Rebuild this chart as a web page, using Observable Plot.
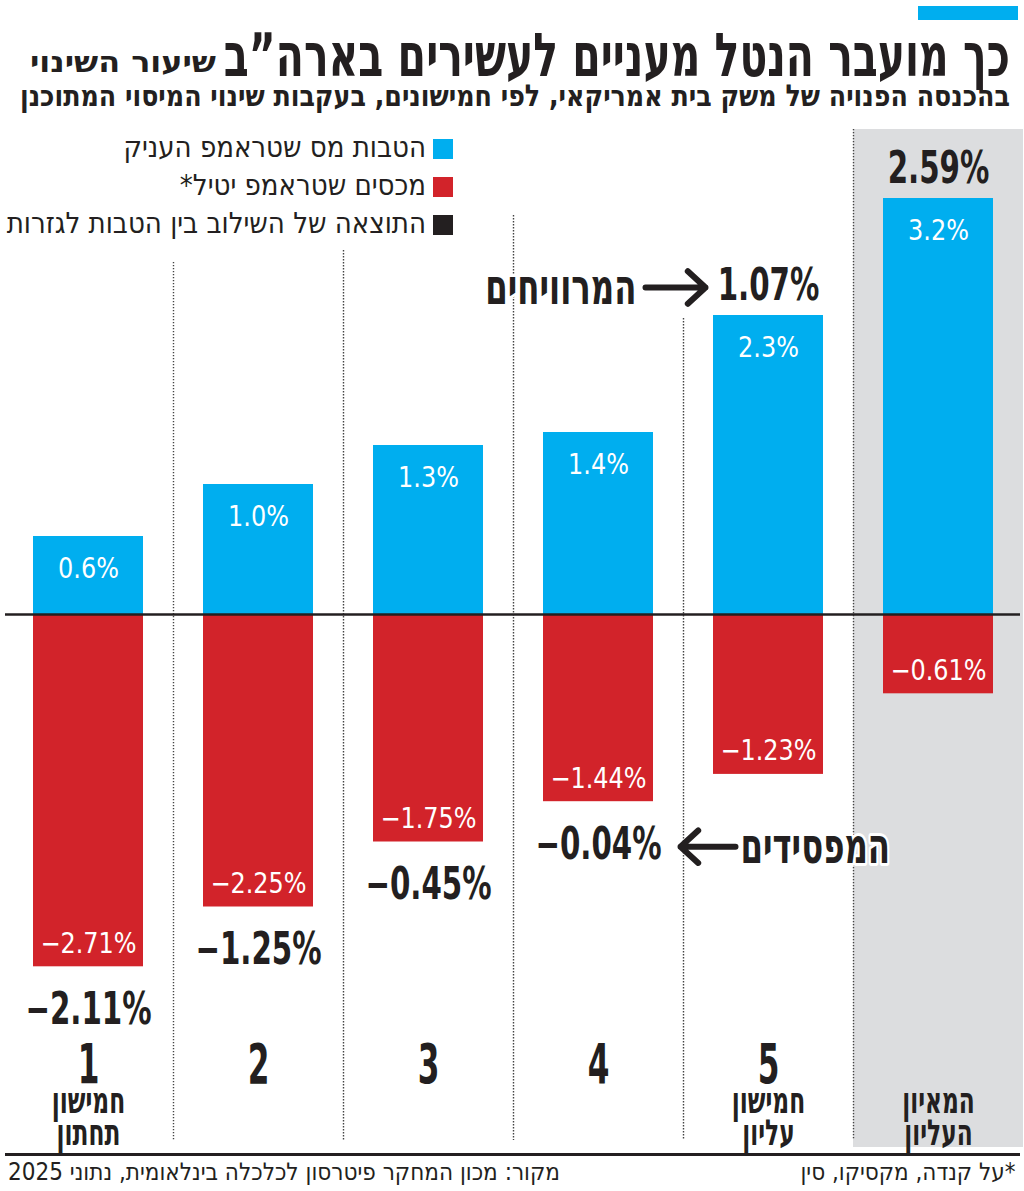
<!DOCTYPE html>
<html lang="he">
<head>
<meta charset="utf-8">
<script src="https://cdn.jsdelivr.net/npm/d3@7"></script>
<script src="https://cdn.jsdelivr.net/npm/@observablehq/plot@0.6"></script>
<style>
  html, body { margin: 0; padding: 0; background: #fff; }
  body { width: 1024px; height: 1191px; overflow: hidden; }
  #page { position: relative; width: 1024px; height: 1191px; font-family: "Liberation Sans Narrow", "DejaVu Sans Condensed", "Liberation Sans", sans-serif; color: #231f20; }
  #accent { position: absolute; left: 918px; top: 6px; width: 100px; height: 14px; background: #00aeef; }
  .fit { position: absolute; white-space: nowrap; direction: rtl; display: inline-block; }
  #title { right: 14px; top: 25px; font-size: 60px; font-weight: bold; line-height: 60px; transform-origin: right center; }
  #unit { left: 30px; top: 47px; font-size: 29px; font-weight: bold; line-height: 30px; transform-origin: left center; }
  #subtitle { right: 14px; top: 79px; font-size: 30px; font-weight: bold; line-height: 34px; transform-origin: right center; }
  #chart { position: absolute; left: 0; top: 120px; }
  #legend { position: absolute; left: 0; top: 128px; width: 453px; direction: rtl; font-size: 29px; line-height: 38px; }
  #legend .row { white-space: nowrap; }
  #legend .sw { display: inline-block; width: 20px; height: 20px; margin-left: 7px; vertical-align: -2px; }
  #rule { position: absolute; left: 5px; top: 1153px; width: 1015px; height: 3px; background: #231f20; }
  #note { right: 9px; top: 1158px; font-size: 24px; line-height: 28px; transform-origin: right center; }
  #src { left: 8px; top: 1158px; font-size: 24px; line-height: 28px; transform-origin: left center; }
</style>
</head>
<body>
<div id="page">
  <div id="accent"></div>
  <div id="title" class="fit">כך מועבר הנטל מעניים לעשירים בארה”ב</div>
  <div id="unit" class="fit">שיעור השינוי</div>
  <div id="subtitle" class="fit">בהכנסה הפנויה של משק בית אמריקאי, לפי חמישונים, בעקבות שינוי המיסוי המתוכנן</div>
  <div id="chart"></div>
  <div id="legend"></div>
  <div id="rule"></div>
  <div id="note" class="fit">*על קנדה, מקסיקו, סין</div>
  <div id="src" class="fit">מקור: מכון המחקר פיטרסון לכלכלה בינלאומית, נתוני 2025</div>
</div>
<script>
// ---- data ----
const quintiles = ["1", "2", "3", "4", "5", "top1"];
const numberLabels = ["1", "2", "3", "4", "5", ""];
const nameLabels = ["חמישון\nתחתון", "", "", "", "חמישון\nעליון", "המאיון\nהעליון"];
const taxCuts = [0.6, 1.0, 1.3, 1.4, 2.3, 3.2];          // הטבות מס
const tariffs = [-2.71, -2.25, -1.75, -1.44, -1.23, -0.61]; // מכסים
const netChange = [-2.11, -1.25, -0.45, -0.04, 1.07, 2.59]; // התוצאה
const legendItems = ["הטבות מס שטראמפ העניק", "מכסים שטראמפ יטיל*", "התוצאה של השילוב בין הטבות לגזרות"];
const winnersLabel = "המרוויחים";
const losersLabel = "המפסידים";

// ---- style ----
const BLUE = "#00aeef", RED = "#d2232a", INK = "#231f20", GREY = "#dcdddf";
const legendColors = [BLUE, RED, INK];
const FONT = '"Liberation Sans Narrow", "DejaVu Sans Condensed", "Liberation Sans", sans-serif';
const H = 1033, ZERO = 494, PXU = 130;
const yTop = ZERO / PXU, yBot = -(H - ZERO) / PXU;
const sepTops = [2.708, 2.8, 3.069, 2.277, 3.731]; // where dotted separators begin (value units)
const sepBottom = -4.046;
const FS = {lbl: 28, big: 44, ann: 50, num: 56, name: 36};

const fmt = (v, d) => (v < 0 ? "\u2212" : "") + Math.abs(v).toFixed(d) + "%";

const rows = quintiles.map((q, i) => {
  const parts = nameLabels[i].split("\n");
  return {q, cut: taxCuts[i], tariff: tariffs[i], net: netChange[i],
    num: numberLabels[i], name1: parts[0] || "", name2: parts[1] || ""};
});
const posNet = rows.filter(d => d.net > 0);
const negNet = rows.filter(d => d.net < 0);

const chart = Plot.plot({
  width: 1024, height: H,
  marginTop: 0, marginBottom: 0, marginLeft: 0, marginRight: 0,
  x: {type: "band", domain: quintiles, range: [3, 1023], padding: 0, round: false, axis: null},
  y: {domain: [yBot, yTop], range: [H, 0], axis: null},
  style: {fontFamily: FONT, background: "transparent", overflow: "visible"},
  marks: [
    Plot.barY([quintiles[5]], {x: d => d, y1: yBot, y2: yTop, fill: GREY, insetTop: 9, insetBottom: 6}),
    Plot.ruleX(quintiles.slice(1), {x: d => d, dx: -85, y1: (d, i) => sepTops[i], y2: sepBottom,
      stroke: "#444", strokeWidth: 1.4, strokeDasharray: "1.4,1.6"}),
    Plot.barY(rows, {x: "q", y: "cut", fill: BLUE, insetLeft: 30, insetRight: 30}),
    Plot.barY(rows, {x: "q", y: "tariff", fill: RED, insetLeft: 30, insetRight: 30}),
    Plot.ruleY([0], {stroke: INK, strokeWidth: 2.5, insetLeft: 5, insetRight: 4}),
    Plot.text(rows, {x: "q", y: "cut", text: d => fmt(d.cut, 1), dy: 33, fill: "white", fontSize: FS.lbl}),
    Plot.text(rows, {x: "q", y: "tariff", text: d => fmt(d.tariff, 2), dy: -23, fill: "white", fontSize: FS.lbl}),
    Plot.text(posNet, {x: "q", y: "cut", text: d => fmt(d.net, 2), dy: -30, fill: INK, fontSize: FS.big, fontWeight: "bold"}),
    Plot.text(negNet, {x: "q", y: "tariff", text: d => fmt(d.net, 2), dy: 43, fill: INK, fontSize: FS.big, fontWeight: "bold"}),
    Plot.arrow([rows[3]], {x1: () => quintiles[3], x2: () => quintiles[4], y1: () => taxCuts[4], y2: () => taxCuts[4],
      dy: -28, insetStart: 47, insetEnd: 63, stroke: INK, strokeWidth: 6, headLength: 6, headAngle: 85}),
    Plot.text([winnersLabel], {x: () => quintiles[3], y: () => taxCuts[4], text: d => d, dy: -28, dx: 38,
      textAnchor: "end", fill: INK, fontSize: FS.ann, fontWeight: "bold", stroke: "white", strokeWidth: 6, paintOrder: "stroke"}),
    Plot.arrow([rows[4]], {x1: () => quintiles[4], x2: () => quintiles[3], y1: () => tariffs[3], y2: () => tariffs[3],
      dy: 45, insetStart: 33, insetEnd: 82, stroke: INK, strokeWidth: 6, headLength: 6, headAngle: 85}),
    Plot.text([losersLabel], {x: () => quintiles[4], y: () => tariffs[3], text: d => d, dy: 45, dx: -28,
      textAnchor: "start", fill: INK, fontSize: FS.ann, fontWeight: "bold", stroke: "white", strokeWidth: 6, paintOrder: "stroke"}),
    Plot.text(rows, {x: "q", text: "num", frameAnchor: "bottom", lineAnchor: "middle", dy: -88,
      fill: INK, fontSize: FS.num, fontWeight: "bold"}),
    Plot.text(rows, {x: "q", text: "name1", frameAnchor: "bottom", lineAnchor: "middle", dy: -52,
      fill: INK, fontSize: FS.name, fontWeight: "bold"}),
    Plot.text(rows, {x: "q", text: "name2", frameAnchor: "bottom", lineAnchor: "middle", dy: -20,
      fill: INK, fontSize: FS.name, fontWeight: "bold"})
  ]
});
document.getElementById("chart").appendChild(chart);

// condense heavy labels horizontally (the original uses a condensed display face)
function condense(size, f) {
  d3.select(chart).selectAll("g").filter(function() {
    return +this.getAttribute("font-size") === size;
  }).selectAll("text").each(function() {
    const len = this.getComputedTextLength();
    if (len > 0) {
      this.setAttribute("textLength", (len * f).toFixed(1));
      this.setAttribute("lengthAdjust", "spacingAndGlyphs");
    }
  });
}
condense(FS.big, 0.74);
condense(FS.ann, 0.72);
condense(FS.num, 0.62);
condense(FS.name, 0.72);
condense(FS.lbl, 0.95);

// legend (HTML overlay)
const legend = d3.select("#legend");
legendItems.forEach((t, i) => {
  const row = legend.append("div").attr("class", "row");
  row.append("span").attr("class", "sw").style("background", legendColors[i]);
  row.append("span").text(t);
});

// fit header/footer texts to their widths in the original layout
function fitWidth(id, target) {
  const el = document.getElementById(id);
  const w = el.getBoundingClientRect().width;
  el.style.transform = `scaleX(${target / w})`;
}
fitWidth("title", 786);
fitWidth("unit", 186);
fitWidth("subtitle", 990);
fitWidth("note", 215);
fitWidth("src", 552);
</script>
</body>
</html>
